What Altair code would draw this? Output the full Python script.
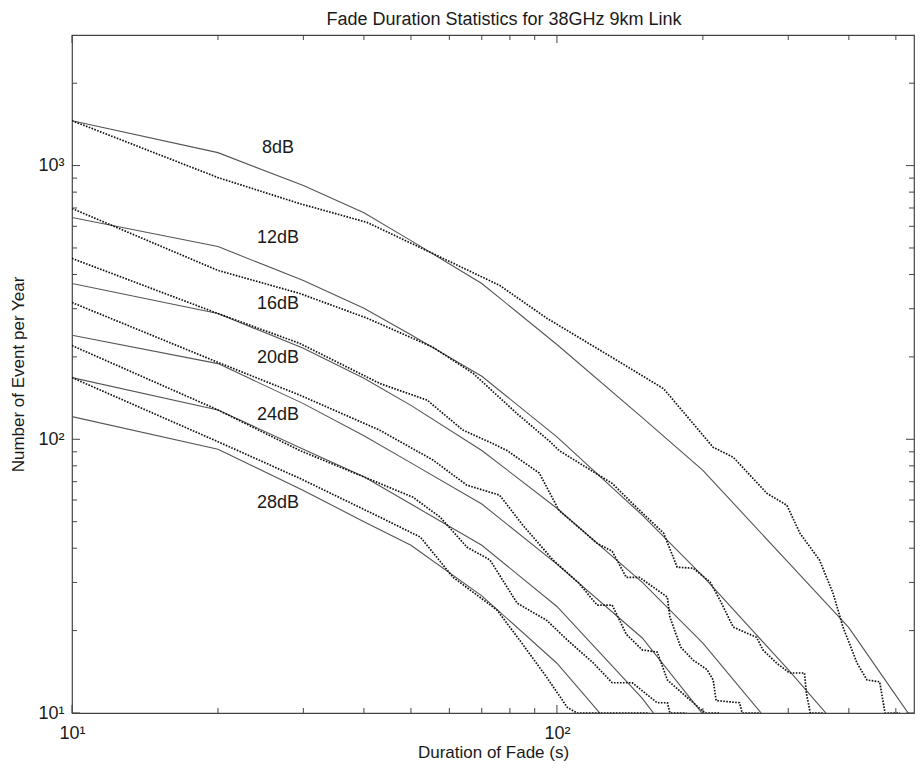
import altair as alt
import pandas as pd

# ---------------- data ----------------
# model (solid) curves, sampled at these durations (s)
X_MODEL = [10, 20, 30, 40, 50, 70, 100, 150, 200, 300, 400, 500, 600]
MODEL = {
    "8dB":  [1459, 1115, 845, 673, 532, 371, 222, 120, 77, 35.5, 20.5, 11.6, 7.3],
    "12dB": [646, 506, 380, 301, 241, 170, 102, 52.8, 31.6, 14.4, 8.0],
    "16dB": [371, 288, 215, 167, 133, 91, 56, 30, 18, 7.6],
    "20dB": [240, 189, 135, 103, 82, 58, 35, 18.8, 9.9, 4.0],
    "24dB": [168, 128, 92, 73, 58, 41, 24.5, 11.3, 5.8],
    "28dB": [121, 92, 65, 50, 41, 26.8, 15.2, 6.6],
}

# measured (dotted) curves: durations and event counts
MEAS_X = {
    "8dB":  [10, 20, 29.5, 40.6, 55.5, 76.2, 95.3, 130, 166, 210, 231, 271, 298, 317, 348, 371, 389, 416, 436, 463, 475, 510],
    "12dB": [10, 20, 29.5, 40.6, 55.5, 67.2, 82.8, 96.8, 101, 130, 143, 166, 177, 191, 207, 217, 231, 258, 266, 284, 302, 324, 327, 333, 356],
    "16dB": [10, 20, 29.5, 43.1, 54, 64, 72.8, 78.9, 92, 101, 121, 130, 139, 148, 169, 171, 180, 191, 204, 210, 213, 238, 241, 262],
    "20dB": [10, 20, 29.5, 43.1, 55.5, 65.2, 76.2, 85.1, 98.2, 111, 121, 130, 139, 150, 161, 169, 191, 202, 217],
    "24dB": [10, 20, 29.5, 43.1, 50.5, 57.4, 65.2, 72.8, 82.8, 95.3, 105, 119, 130, 143, 161, 169, 171, 185],
    "28dB": [10, 20, 29.5, 43.1, 52.3, 61.1, 75.2, 83.7, 95.3, 105, 110, 155],
}
MEAS_Y = {
    "8dB":  [1459, 904, 726, 620, 477, 365, 277, 199, 153, 93.5, 86, 63.5, 57.4, 45.4, 36.2, 27.4, 20.6, 15.2, 13.2, 13.0, 10, 10],
    "12dB": [697, 414, 341, 277, 217, 174, 124, 98, 91, 69, 58.4, 45.4, 34.1, 33.8, 30.1, 25.8, 20.6, 18.9, 17.0, 15.2, 14.0, 14.0, 11.8, 10, 10],
    "16dB": [458, 288, 224, 160, 139, 108, 97.5, 91, 75.2, 55, 41.7, 39, 31.3, 31.3, 26.5, 22.4, 17.4, 15.6, 14.4, 13.2, 11.1, 10.9, 10, 10],
    "20dB": [316, 191, 145, 108, 84, 68, 62.5, 48.5, 36.2, 29.8, 24.8, 24.8, 19.4, 17, 16.7, 13.2, 10.9, 10, 10],
    "24dB": [220, 128, 91, 69, 61.4, 52, 40.4, 36.2, 25.2, 21.8, 18.5, 15.2, 12.9, 12.9, 10.9, 10.9, 10, 10],
    "28dB": [168, 98, 72, 52, 43.9, 31.3, 23.8, 18.5, 13.5, 10.5, 10, 10],
}

# curve labels
LABELS = ["8dB", "12dB", "16dB", "20dB", "24dB", "28dB"]
LABEL_X = [26.6, 26.6, 26.6, 26.6, 26.6, 26.6]
LABEL_Y = [1164, 546, 313, 198, 122.5, 58.4]

# axis ticks
X_MAJOR = [10, 100]
X_MINOR = [20, 30, 40, 50, 60, 70, 80, 90, 200, 300, 400, 500]
Y_MAJOR = [10, 100, 1000]
Y_MINOR = [20, 30, 40, 50, 60, 70, 80, 90, 200, 300, 400, 500, 600, 700, 800, 900, 2000]

X_DOMAIN = [10, 545]
Y_DOMAIN = [10, 3000]

W, H = 842, 678
FONT = "Liberation Sans"
TXT = "#1a1a1a"

# ---------------- tables ----------------
rows = []
for k, ys in MODEL.items():
    for i, (x, y) in enumerate(zip(X_MODEL, ys)):
        rows.append({"series": k, "x": x, "y": y, "i": i})
model_df = pd.DataFrame(rows)

rows = []
for k in MEAS_X:
    for i, (x, y) in enumerate(zip(MEAS_X[k], MEAS_Y[k])):
        rows.append({"series": k, "x": x, "y": y, "i": i})
meas_df = pd.DataFrame(rows)

lab_df = pd.DataFrame({"label": LABELS, "x": LABEL_X, "y": LABEL_Y})

xscale = alt.Scale(type="log", domain=X_DOMAIN, nice=False)
yscale = alt.Scale(type="log", domain=Y_DOMAIN, nice=False)

x_axis = alt.Axis(
    values=X_MAJOR,
    labelExpr="datum.value >= 100 ? '10²' : '10¹'",
    ticks=False, grid=False, domain=False, labelFlush=False,
    labelFont=FONT, labelFontSize=18, labelColor=TXT, labelPadding=11,
    title="Duration of Fade (s)", titleFont=FONT, titleFontSize=17,
    titleFontWeight="normal", titleColor=TXT, titlePadding=2,
)
y_axis = alt.Axis(
    values=Y_MAJOR,
    labelExpr="datum.value >= 1000 ? '10³' : datum.value >= 100 ? '10²' : '10¹'",
    ticks=False, grid=False, domain=False, labelFlush=False,
    labelFont=FONT, labelFontSize=18, labelColor=TXT, labelPadding=8,
    title="Number of Event per Year", titleFont=FONT, titleFontSize=17,
    titleFontWeight="normal", titleColor=TXT,
    titleX=-54, titleY=H / 2, titleBaseline="middle",
)

def X(field):
    return alt.X(field, scale=xscale, axis=x_axis)

def Y(field):
    return alt.Y(field, scale=yscale, axis=y_axis)

solid = alt.Chart(model_df).mark_line(
    color="#555555", strokeWidth=1.1, clip=True
).encode(x=X("x:Q"), y=Y("y:Q"), detail="series:N", order="i:Q")

dotted = alt.Chart(meas_df).mark_line(
    color="#111111", strokeWidth=1.7, strokeDash=[1.6, 1.4], clip=True
).encode(x=X("x:Q"), y=Y("y:Q"), detail="series:N", order="i:Q")

labels = alt.Chart(lab_df).mark_text(
    font=FONT, fontSize=18, color=TXT, align="center", baseline="middle"
).encode(x=X("x:Q"), y=Y("y:Q"), text="label:N")

def xticks(vals, length):
    d = pd.DataFrame({"x": vals})
    base = alt.Chart(d).mark_rule(color="#444", strokeWidth=1)
    bottom = base.encode(x=X("x:Q"), y=alt.value(H), y2=alt.value(H - length))
    top = base.encode(x=X("x:Q"), y=alt.value(0), y2=alt.value(length))
    return [bottom, top]

def yticks(vals, length):
    d = pd.DataFrame({"y": vals})
    base = alt.Chart(d).mark_rule(color="#444", strokeWidth=1)
    left = base.encode(y=Y("y:Q"), x=alt.value(0), x2=alt.value(length))
    right = base.encode(y=Y("y:Q"), x=alt.value(W), x2=alt.value(W - length))
    return [left, right]

tick_layers = (xticks(X_MAJOR, 8) + xticks(X_MINOR, 5)
               + yticks(Y_MAJOR, 8) + yticks(Y_MINOR, 5))

chart = alt.layer(solid, dotted, labels, *tick_layers).properties(
    width=W, height=H,
    autosize=alt.AutoSizeParams(type="none"),
    padding={"left": 64, "top": 27, "right": 1, "bottom": 52},
    title=alt.TitleParams(
        "Fade Duration Statistics for 38GHz 9km Link",
        font=FONT, fontSize=18, fontWeight="normal", color=TXT, offset=6, dx=11,
    ),
).configure_view(stroke="#444", strokeWidth=1.2)

chart.save("out.html", embed_options={"renderer": "svg", "actions": False})
